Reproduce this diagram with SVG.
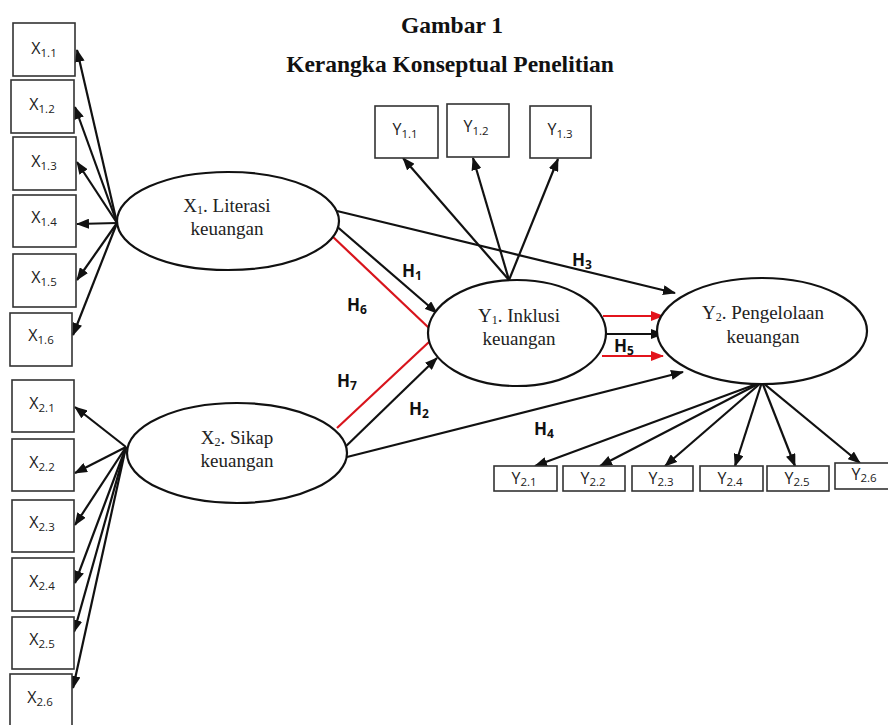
<svg xmlns="http://www.w3.org/2000/svg" width="888" height="725" viewBox="0 0 888 725">
<style>
.box{fill:#fff;stroke:#333;stroke-width:1.6}
.ell{fill:#fff;stroke:#111;stroke-width:2.2}
.bl{font-family:"Open Sans","Liberation Sans",sans-serif;font-size:16px;fill:#222;text-anchor:middle}
.sub{font-size:11.5px}
.el{font-family:"Liberation Serif",serif;font-size:19px;fill:#222;text-anchor:middle}
.es{font-size:12px}
.h{font-family:"Open Sans","Liberation Sans",sans-serif;font-size:17px;font-weight:bold;fill:#111}
.hs{font-size:12px}
.title{font-family:"Liberation Serif",serif;font-weight:bold;font-size:23.5px;fill:#111;text-anchor:middle}
.a{stroke:#111;stroke-width:2.2;fill:none;marker-end:url(#ah)}
.r{stroke:#d8141c;stroke-width:2.2;fill:none}
.ra{stroke:#e3141c;stroke-width:2.2;fill:none;marker-end:url(#rh)}
</style>
<defs>
<marker id="ah" markerUnits="userSpaceOnUse" markerWidth="13" markerHeight="10" refX="12" refY="5" orient="auto"><path d="M0,0 L13,5 L0,10 z" fill="#111"/></marker>
<marker id="rh" markerUnits="userSpaceOnUse" markerWidth="13" markerHeight="10" refX="12" refY="5" orient="auto"><path d="M0,0 L13,5 L0,10 z" fill="#e3141c"/></marker>
</defs>
<rect width="888" height="725" fill="#fff"/>
<g id="title">
<text class="title" x="452" y="33">Gambar 1</text>
<text class="title" x="450" y="72">Kerangka Konseptual Penelitian</text>
</g>
<g id="connectors">
<line class="a" x1="117" y1="223" x2="77" y2="50"/>
<line class="a" x1="117" y1="223" x2="75" y2="107"/>
<line class="a" x1="117" y1="223" x2="77" y2="162"/>
<line class="a" x1="117" y1="223" x2="77" y2="224"/>
<line class="a" x1="117" y1="223" x2="77" y2="280"/>
<line class="a" x1="117" y1="223" x2="73" y2="335"/>
<line class="a" x1="126" y1="447" x2="75" y2="407"/>
<line class="a" x1="126" y1="447" x2="75" y2="473"/>
<line class="a" x1="126" y1="447" x2="75" y2="525"/>
<line class="a" x1="126" y1="447" x2="75" y2="583"/>
<line class="a" x1="126" y1="447" x2="74" y2="632"/>
<line class="a" x1="126" y1="447" x2="73" y2="688"/>
<line class="a" x1="509" y1="280" x2="403" y2="158"/>
<line class="a" x1="509" y1="280" x2="473" y2="158"/>
<line class="a" x1="509" y1="280" x2="558" y2="159"/>
<line class="a" x1="762" y1="382" x2="535" y2="466"/>
<line class="a" x1="762" y1="382" x2="600" y2="466"/>
<line class="a" x1="762" y1="382" x2="665" y2="466"/>
<line class="a" x1="762" y1="382" x2="735" y2="466"/>
<line class="a" x1="762" y1="382" x2="795" y2="466"/>
<line class="a" x1="762" y1="382" x2="860" y2="463"/>
<line class="r" x1="332" y1="236" x2="429" y2="328"/>
<line class="r" x1="337" y1="428" x2="429" y2="342"/>
<line class="a" x1="334" y1="224" x2="437" y2="313"/>
<line class="a" x1="341" y1="451" x2="437" y2="358"/>
<line class="a" x1="337" y1="211" x2="675" y2="293"/>
<line class="a" x1="347" y1="457" x2="683" y2="372"/>
<line class="ra" x1="603" y1="316" x2="663" y2="316"/>
<line class="a" x1="607" y1="334" x2="663" y2="334"/>
<line class="ra" x1="602" y1="356" x2="663" y2="356"/>
</g>
<g id="hlabels">
<text class="h" x="402" y="277">H<tspan class="hs" dy="3">1</tspan></text>
<text class="h" x="347" y="311">H<tspan class="hs" dy="3">6</tspan></text>
<text class="h" x="337" y="387">H<tspan class="hs" dy="3">7</tspan></text>
<text class="h" x="409" y="415">H<tspan class="hs" dy="3">2</tspan></text>
<text class="h" x="572" y="266">H<tspan class="hs" dy="3">3</tspan></text>
<text class="h" x="534" y="435">H<tspan class="hs" dy="3">4</tspan></text>
<text class="h" x="614" y="352">H<tspan class="hs" dy="3">5</tspan></text>
</g>
<g id="X1"><ellipse class="ell" cx="228" cy="221" rx="111" ry="49"/><text class="el" x="227" y="212">X<tspan class="es" dy="2">1</tspan><tspan dy="-2">. Literasi</tspan></text><text class="el" x="227" y="235">keuangan</text></g>
<g id="X2"><ellipse class="ell" cx="237" cy="453" rx="110" ry="50"/><text class="el" x="237" y="444">X<tspan class="es" dy="2">2</tspan><tspan dy="-2">. Sikap</tspan></text><text class="el" x="237" y="467">keuangan</text></g>
<g id="Y1"><ellipse class="ell" cx="517" cy="333" rx="89" ry="53"/><text class="el" x="519" y="322">Y<tspan class="es" dy="2">1</tspan><tspan dy="-2">. Inklusi</tspan></text><text class="el" x="519" y="345">keuangan</text></g>
<g id="Y2"><ellipse class="ell" cx="762" cy="331" rx="105" ry="53"/><text class="el" x="763" y="319">Y<tspan class="es" dy="2">2</tspan><tspan dy="-2">. Pengelolaan</tspan></text><text class="el" x="763" y="343">keuangan</text></g>
<g id="X11"><rect class="box" x="13" y="23" width="62" height="53"/><text class="bl" x="44" y="54">X<tspan class="sub" dy="3">1.1</tspan></text></g>
<g id="X12"><rect class="box" x="11" y="80" width="63" height="53"/><text class="bl" x="42" y="110">X<tspan class="sub" dy="3">1.2</tspan></text></g>
<g id="X13"><rect class="box" x="13" y="137" width="63" height="53"/><text class="bl" x="44" y="167">X<tspan class="sub" dy="3">1.3</tspan></text></g>
<g id="X14"><rect class="box" x="13" y="195" width="63" height="52"/><text class="bl" x="44" y="223">X<tspan class="sub" dy="3">1.4</tspan></text></g>
<g id="X15"><rect class="box" x="13" y="254" width="63" height="53"/><text class="bl" x="44" y="283">X<tspan class="sub" dy="3">1.5</tspan></text></g>
<g id="X16"><rect class="box" x="10" y="313" width="62" height="53"/><text class="bl" x="41" y="341">X<tspan class="sub" dy="3">1.6</tspan></text></g>
<g id="X21"><rect class="box" x="12" y="380" width="62" height="52"/><text class="bl" x="42" y="409">X<tspan class="sub" dy="3">2.1</tspan></text></g>
<g id="X22"><rect class="box" x="12" y="439" width="62" height="52"/><text class="bl" x="42" y="468">X<tspan class="sub" dy="3">2.2</tspan></text></g>
<g id="X23"><rect class="box" x="12" y="500" width="62" height="52"/><text class="bl" x="42" y="528">X<tspan class="sub" dy="3">2.3</tspan></text></g>
<g id="X24"><rect class="box" x="12" y="558" width="62" height="53"/><text class="bl" x="42" y="587">X<tspan class="sub" dy="3">2.4</tspan></text></g>
<g id="X25"><rect class="box" x="12" y="617" width="62" height="52"/><text class="bl" x="42" y="645">X<tspan class="sub" dy="3">2.5</tspan></text></g>
<g id="X26"><rect class="box" x="10" y="674" width="62" height="55"/><text class="bl" x="40" y="703">X<tspan class="sub" dy="3">2.6</tspan></text></g>
<g id="Y11"><rect class="box" x="375" y="106" width="63" height="52"/><text class="bl" x="405" y="135">Y<tspan class="sub" dy="3">1.1</tspan></text></g>
<g id="Y12"><rect class="box" x="447" y="104" width="62" height="53"/><text class="bl" x="476" y="132">Y<tspan class="sub" dy="3">1.2</tspan></text></g>
<g id="Y13"><rect class="box" x="530" y="106" width="61" height="52"/><text class="bl" x="560" y="135">Y<tspan class="sub" dy="3">1.3</tspan></text></g>
<g id="Y21"><rect class="box" x="494" y="466" width="63" height="25"/><text class="bl" x="524" y="484">Y<tspan class="sub" dy="2">2.1</tspan></text></g>
<g id="Y22"><rect class="box" x="563" y="466" width="62" height="25"/><text class="bl" x="593" y="484">Y<tspan class="sub" dy="2">2.2</tspan></text></g>
<g id="Y23"><rect class="box" x="632" y="466" width="61" height="25"/><text class="bl" x="661" y="484">Y<tspan class="sub" dy="2">2.3</tspan></text></g>
<g id="Y24"><rect class="box" x="700" y="466" width="63" height="25"/><text class="bl" x="730" y="484">Y<tspan class="sub" dy="2">2.4</tspan></text></g>
<g id="Y25"><rect class="box" x="767" y="466" width="62" height="25"/><text class="bl" x="797" y="484">Y<tspan class="sub" dy="2">2.5</tspan></text></g>
<g id="Y26"><rect class="box" x="835" y="463" width="60" height="26"/><text class="bl" x="864" y="480">Y<tspan class="sub" dy="2">2.6</tspan></text></g>
</svg>
